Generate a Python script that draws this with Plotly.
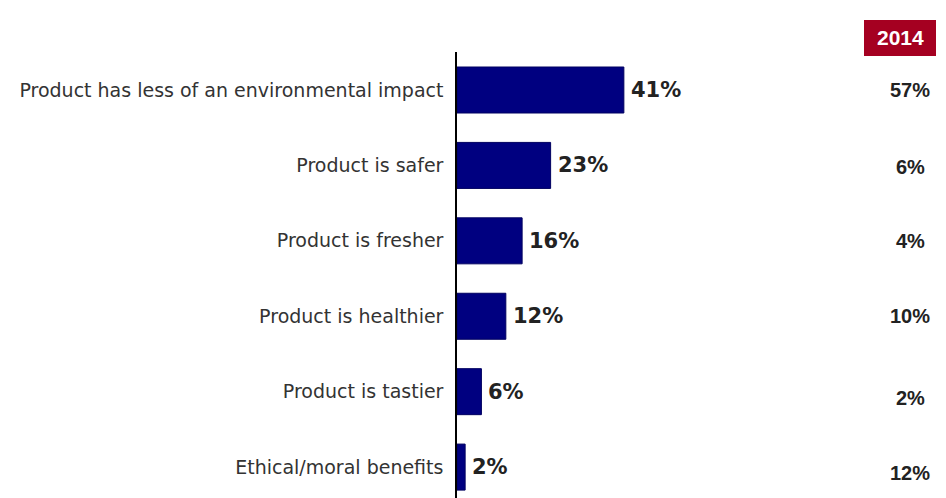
import plotly.graph_objects as go

# Reasons given, share of respondents (%)
categories = [
    "Product has less of an environmental impact",
    "Product is safer",
    "Product is fresher",
    "Product is healthier",
    "Product is tastier",
    "Ethical/moral benefits",
]
values_current = [41, 23, 16, 12, 6, 2]
values_2014 = [57, 6, 4, 10, 2, 12]
year_label = "2014"

W, H = 946, 498
L, R, T, B = 457, 0, 52, 0
plot_w = W - L - R
plot_h = H - T - B

fig = go.Figure()
fig.add_trace(go.Bar(
    x=values_current,
    y=categories,
    orientation="h",
    marker=dict(color="#000080", line=dict(color="#000060", width=1)),
    width=0.61,
    hoverinfo="skip",
))

# Value labels just past each bar end
for cat, v in zip(categories, values_current):
    fig.add_annotation(
        x=v, xref="x", y=cat, yref="y",
        text=f"<b>{v}%</b>", showarrow=False,
        xanchor="left", yanchor="middle", xshift=5,
        font=dict(family="DejaVu Sans, sans-serif", size=21, color="#222222"),
    )

# Comparison column for the earlier year (bottom rows sit slightly lower)
col_x = (910 - L) / plot_w
col_shift = [0, -2, 0, 0, -6, -6]
for cat, v, dy in zip(categories, values_2014, col_shift):
    fig.add_annotation(
        x=col_x, xref="paper", y=cat, yref="y", yshift=dy,
        text=f"<b>{v}%</b>", showarrow=False,
        font=dict(family="Liberation Sans Narrow, Arial Narrow, Liberation Sans, sans-serif",
                  size=20, color="#222222"),
        xanchor="center", yanchor="middle",
    )

# Year header box
fig.add_shape(
    type="rect", xref="paper", yref="paper",
    x0=(864 - L) / plot_w, x1=(936 - L) / plot_w,
    y0=(H - B - 56) / plot_h, y1=(H - B - 20) / plot_h,
    fillcolor="#A50021", line=dict(width=0), layer="above",
)
fig.add_annotation(
    x=(900 - L) / plot_w, xref="paper", y=(H - B - 38) / plot_h, yref="paper",
    text=f"<b>{year_label}</b>", showarrow=False,
    font=dict(family="Liberation Sans Narrow, Arial Narrow, Liberation Sans, sans-serif",
              size=21, color="white"),
    xanchor="center", yanchor="middle",
)

fig.update_layout(
    width=W, height=H,
    margin=dict(l=L, r=R, t=T, b=B),
    paper_bgcolor="white", plot_bgcolor="white",
    showlegend=False,
    xaxis=dict(range=[0, plot_w / 4.07], visible=False, fixedrange=True),
    yaxis=dict(
        categoryorder="array", categoryarray=categories,
        range=[5.41, -0.504],
        showline=True, linecolor="#000000", linewidth=1.5,
        showgrid=False, zeroline=False,
        ticks="outside", ticklen=8, tickcolor="rgba(0,0,0,0)",
        tickfont=dict(family="DejaVu Sans, sans-serif", size=19, color="#333333"),
        fixedrange=True,
    ),
)

fig.write_html("out.html")
